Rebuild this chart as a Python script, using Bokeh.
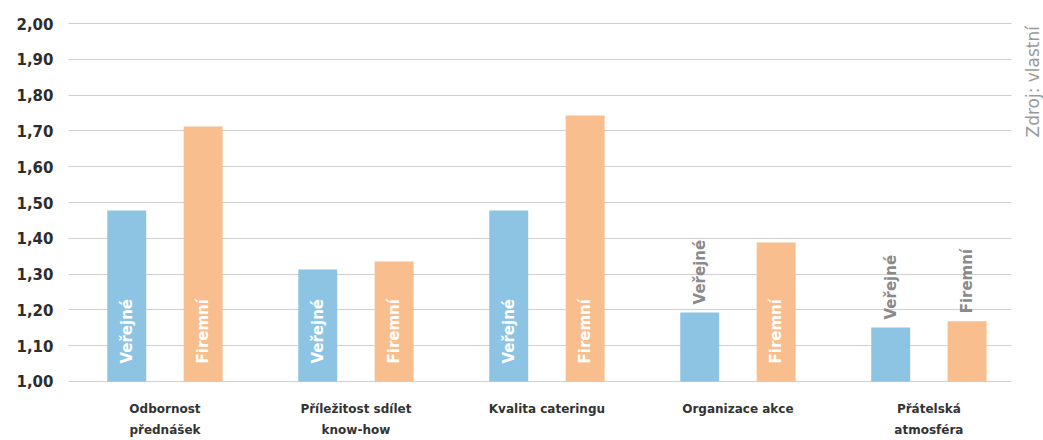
from math import pi
from bokeh.plotting import figure
from bokeh.models import Range1d, FixedTicker, CustomJSTickFormatter, ColumnDataSource, Label
from bokeh.core.properties import value
from bokeh.embed import file_html
from bokeh.resources import INLINE

# ---- data ----
categories = ["Odbornost\npřednášek", "Příležitost sdílet\nknow-how", "Kvalita cateringu",
              "Organizace akce", "Přátelská\natmosféra"]
series_names = ["Veřejné", "Firemní"]
verejne = [1.478, 1.313, 1.478, 1.193, 1.151]
firemni = [1.712, 1.335, 1.743, 1.388, 1.168]
y_ticks = [1.0, 1.1, 1.2, 1.3, 1.4, 1.5, 1.6, 1.7, 1.8, 1.9, 2.0]
source_note = "Zdroj: vlastní"

BLUE = "#8ec4e3"
ORANGE = "#f8be8d"
FONT = "DejaVu Sans"
X0, X1_GRID, X1 = -0.505, 4.43, 4.60

p = figure(width=1043, height=440, output_backend="svg", toolbar_location=None,
           x_range=Range1d(X0, X1), y_range=Range1d(0.9916, 2.0084),
           min_border_left=68, min_border_right=0, min_border_top=20, min_border_bottom=56)
p.outline_line_color = None
p.xgrid.grid_line_color = None
p.ygrid.grid_line_color = "#cfcfcf"
p.ygrid.grid_line_width = 1
p.ygrid.cross_bounds = (X0, X1_GRID)

# bars
n = len(categories)
xs_v = [i - 0.2 for i in range(n)]
xs_f = [i + 0.2 for i in range(n)]
p.vbar(x=xs_v, top=verejne, bottom=1.0, width=0.204, fill_color=BLUE, line_color=None)
p.vbar(x=xs_f, top=firemni, bottom=1.0, width=0.204, fill_color=ORANGE, line_color=None)

# bar labels
THRESH = 0.25
lx, ly, lt, lc, loff = [], [], [], [], []
for xs, vals, name in ((xs_v, verejne, series_names[0]), (xs_f, firemni, series_names[1])):
    for x, v in zip(xs, vals):
        lx.append(x)
        lt.append(name)
        if v - 1.0 > THRESH:
            ly.append(1.0); lc.append("white"); loff.append(-18)
        else:
            ly.append(v); lc.append("#8a8a8a"); loff.append(-8)
src = ColumnDataSource(dict(x=lx, y=ly, t=lt, c=lc, o=loff))
p.text(x="x", y="y", text="t", text_color="c", y_offset="o", angle=pi / 2,
       text_align="left", text_baseline="middle", text_font=value(FONT),
       text_font_style="bold", text_font_size="15px", source=src)

# axes
p.yaxis.ticker = FixedTicker(ticks=y_ticks)
p.yaxis.formatter = CustomJSTickFormatter(code="return tick.toFixed(2).replace('.', ',');")
p.yaxis.axis_line_color = None
p.yaxis.major_tick_line_color = None
p.yaxis.minor_tick_line_color = None
p.yaxis.major_tick_out = 0
p.yaxis.major_label_standoff = 15
p.yaxis.major_label_text_font = FONT
p.yaxis.major_label_text_font_style = "bold"
p.yaxis.major_label_text_font_size = "15px"
p.yaxis.major_label_text_color = "#2d2d2d"

p.xaxis.ticker = FixedTicker(ticks=list(range(n)))
p.xaxis.major_label_overrides = {i: c for i, c in enumerate(categories)}
p.xaxis.axis_line_color = None
p.xaxis.major_tick_line_color = None
p.xaxis.minor_tick_line_color = None
p.xaxis.major_tick_out = 0
p.xaxis.major_label_standoff = 17
p.xaxis.major_label_text_font = FONT
p.xaxis.major_label_text_font_style = "bold"
p.xaxis.major_label_text_font_size = "12px"
p.xaxis.major_label_text_color = "#333333"
p.xaxis.major_label_text_line_height = 1.5

# source note (rotated, reading bottom to top), in frame screen units
note = Label(x=964, y=247, x_units="screen", y_units="screen", text=source_note, angle=pi / 2,
             text_align="left", text_baseline="alphabetic", text_font=FONT,
             text_font_size="17px", text_color="#9a9a9a")
p.add_layout(note)

open("out.html", "w").write(file_html(p, INLINE))
